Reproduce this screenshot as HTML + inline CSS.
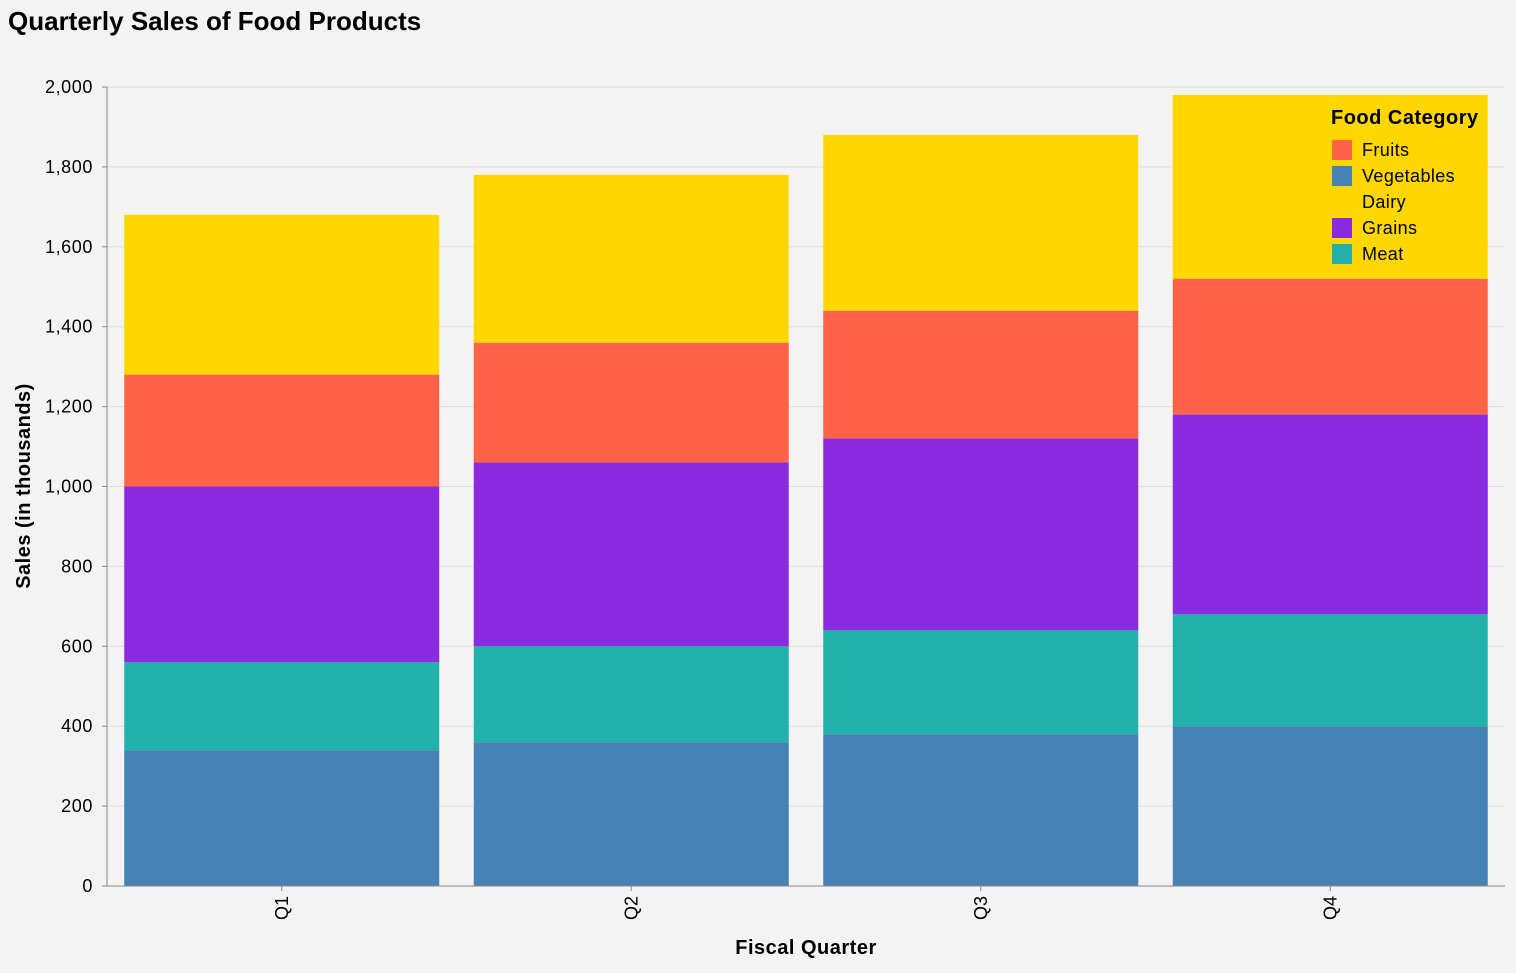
<!DOCTYPE html>
<html><head><meta charset="utf-8"><style>
body{margin:0;background:#f3f3f3;font-family:"Liberation Sans",Arial,sans-serif}
</style></head><body>
<svg id="c" width="1516" height="968" xmlns="http://www.w3.org/2000/svg" font-family="Liberation Sans, Arial, sans-serif">
<rect width="1516" height="968" fill="#f3f3f3"/>
<text x="8" y="30" font-size="26" font-weight="bold" fill="#000">Quarterly Sales of Food Products</text>
<g id="grid"></g><g id="bars"></g><g id="axes"></g><g id="legend"></g>
</svg>
<script>
const quarters=["Q1","Q2","Q3","Q4"];
const categories=["Vegetables","Meat","Grains","Fruits","Dairy"];
const vegetables=[340,360,380,400];
const meat=[220,240,260,280];
const grains=[440,460,480,500];
const fruits=[280,300,320,340];
const dairy=[400,420,440,460];
const yTicks=[0,200,400,600,800,1000,1200,1400,1600,1800,2000];
const legendOrder=["Fruits","Vegetables","Dairy","Grains","Meat"];
const colors={Vegetables:"#4682b4",Meat:"#20b2aa",Grains:"#8a2be2",Fruits:"#ff6347",Dairy:"#ffd700"};
const series={Vegetables:vegetables,Meat:meat,Grains:grains,Fruits:fruits,Dairy:dairy};
const NS="http://www.w3.org/2000/svg";
const X0=107,X1=1505,Y0=886,Y1=87,YMAX=2000;
const y=v=>Y0-(v/YMAX)*(Y0-Y1);
const band=(X1-X0)/quarters.length;
const x=i=>X0+i*band+(band-315)/2;
function mk(t,a,p){const e=document.createElementNS(NS,t);for(const k in a)e.setAttribute(k,a[k]);p.appendChild(e);return e;}
const grid=document.getElementById('grid'),bars=document.getElementById('bars'),axes=document.getElementById('axes'),leg=document.getElementById('legend');
yTicks.forEach(t=>{
 const l=mk('line',{x1:X0,x2:X1,y1:y(t),y2:y(t),stroke:'#ddd','stroke-width':1},grid);
 
 
 const tk=mk('line',{x1:X0-5,x2:X0,y1:y(t),y2:y(t),stroke:'#888'},axes);
 
 
 const tx=mk('text',{x:X0-14,y:y(t)+6,'text-anchor':'end','font-size':18,'letter-spacing':0.6,fill:'#000'},axes);
 tx.textContent=t.toLocaleString('en-US');
 
 
});
quarters.forEach((q,i)=>{
 let base=0;
 categories.forEach(c=>{
  const v=series[c][i];
  const r=mk('rect',{x:x(i),width:315,y:y(base+v),height:y(base)-y(base+v),fill:colors[c]},bars);
  
  
  base+=v;
 });
 const cx=x(i)+157.5;
 const tk=mk('line',{x1:cx,x2:cx,y1:Y0,y2:Y0+5,stroke:'#888'},axes);
 
 
 const t=mk('text',{transform:`translate(${cx+6},${Y0+10}) rotate(-90)`,'text-anchor':'end','font-size':18,fill:'#000'},axes);
 t.textContent=q;
 
 
});
let a=mk('line',{x1:X0,x2:X0,y1:Y1,y2:Y0,stroke:'#888'},axes);


a=mk('line',{x1:X0,x2:X1,y1:Y0,y2:Y0,stroke:'#888'},axes);


let t=mk('text',{x:(X0+X1)/2,y:954,'text-anchor':'middle','font-size':20,'font-weight':'bold','letter-spacing':0.5},axes);
t.textContent='Fiscal Quarter';


t=mk('text',{transform:'translate(30,486) rotate(-90)','text-anchor':'middle','font-size':20,'font-weight':'bold','letter-spacing':0.5},axes);
t.textContent='Sales (in thousands)';


t=mk('text',{x:1331,y:124,'font-size':20,'font-weight':'bold','letter-spacing':0.5},leg);
t.textContent='Food Category';


legendOrder.forEach((c,k)=>{
 const yy=149+k*26;
 if(c!=='Dairy'){const s=mk('rect',{x:1332,y:yy-9,width:20,height:20,fill:colors[c]},leg);
 
 }
 const l=mk('text',{x:1362,y:yy+7,'font-size':18,'letter-spacing':0.4},leg);
 l.textContent=c;
 
 
});
</script>
</body></html>
